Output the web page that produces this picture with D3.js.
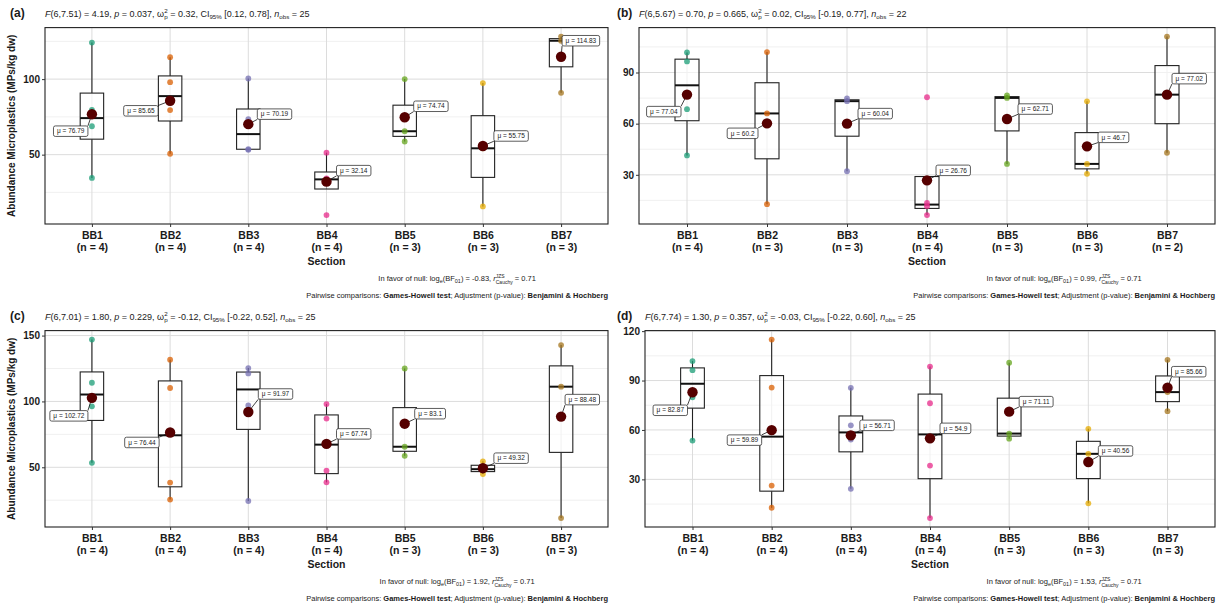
<!DOCTYPE html>
<html>
<head>
<meta charset="utf-8">
<script src="https://cdn.jsdelivr.net/npm/d3@7"></script>
<style>
  body { margin: 0; background: #fff; }
  svg text { font-family: "Liberation Sans", Arial, Helvetica, sans-serif; fill: #1a1a1a; }
</style>
</head>
<body>
<svg id="chart" width="1221" height="606"></svg>
<script>
// sections on the x axis
const sections = ["BB1", "BB2", "BB3", "BB4", "BB5", "BB6", "BB7"];
const palette = ["#1B9E77", "#D95F02", "#7570B3", "#E7298A", "#66A61E", "#E6AB02", "#A6761D"];

const obsA = [[34.6, 68.8, 79.6, 124.2], [50.6, 79.5, 98, 114.5], [53.2, 53.7, 73.5, 100.4], [10, 33, 34.26, 51.3],
              [58.7, 65.5, 100], [15.7, 54.2, 97.4], [90.9, 125.4, 128.2]];
const obsB = [[41.4, 68.5, 96.5, 101.8], [12.8, 66, 102], [32.1, 73.2, 74.8], [6.4, 11.6, 13.5, 75.5],
              [36.4, 75.1, 76.6], [30.6, 36.4, 73.1], [42.94, 111.1]];
const obsC = [[53.4, 96.3, 114.2, 147], [25.5, 38.4, 110.2, 131.7], [24.4, 96.9, 121.3, 125.3], [38.56, 47.4, 87, 98],
              [58.7, 65.6, 125], [44.9, 48.56, 54.5], [11.44, 111.2, 142.8]];
const obsD = [[53.58, 79.8, 96.3, 101.8], [12.76, 26.2, 85.7, 114.9], [24.24, 54.2, 62.8, 85.6], [6.5, 38.4, 76.2, 98.5],
              [54.73, 57.8, 100.8], [15.48, 45.5, 60.7], [71.4, 82.98, 102.6]];

// printed group means
const meansA = [76.79, 85.65, 70.19, 32.14, 74.74, 55.75, 114.83];
const meansB = [77.04, 60.2, 60.04, 26.76, 62.71, 46.7, 77.02];
const meansC = [102.72, 76.44, 91.97, 67.74, 83.1, 49.32, 88.48];
const meansD = [82.87, 59.89, 56.71, 54.9, 71.11, 40.56, 85.66];

// y ticks
const ticksA = [50, 100], minorA = [25, 75, 125];
const ticksB = [30, 60, 90], minorB = [15, 45, 75, 105];
const ticksC = [50, 100, 150], minorC = [25, 75, 125];
const ticksD = [30, 60, 90, 120], minorD = [15, 45, 75, 105];

// test statistics per panel
const panelTags = ["(a)", "(b)", "(c)", "(d)"];
const statDf = ["6,7.51", "6,5.67", "6,7.01", "6,7.74"];
const statF = ["4.19", "0.70", "1.80", "1.30"];
const statP = ["0.037", "0.665", "0.229", "0.357"];
const statOmega = ["0.32", "0.02", "-0.12", "-0.03"];
const statCI = ["[0.12, 0.78]", "[-0.19, 0.77]", "[-0.22, 0.52]", "[-0.22, 0.60]"];
const statN = [25, 22, 25, 25];
const statBF = ["-0.83", "0.99", "1.92", "1.53"];

// label nudges for the mean labels (px: [dx, dy])
const labA = [[-4, 17], [-12, 10], [9, -10], [10, -11], [9, -11], [11, -10], [1, -16]];
const labB = [[-6, 17], [-9, 10], [11, -10], [9, -10], [11, -10], [11, -9], [5, -16]];
const labC = [[-4, 18], [-11, 10], [10, -18], [10, -10], [10, -10], [11, -10], [4, -17]];
const labD = [[-5, 18], [-10, 10], [9, -10], [10, -10], [10, -10], [10, -11], [4, -16]];

const svg = d3.select("#chart");

const panels = [
  { obs: obsA, means: meansA, ticks: ticksA, minor: minorA, labs: labA, left: 45, right: 608, top: 27.6, bottom: 224, tagX: 10, yTitle: true },
  { obs: obsB, means: meansB, ticks: ticksB, minor: minorB, labs: labB, left: 639, right: 1215, top: 27.6, bottom: 224, tagX: 617, yTitle: false },
  { obs: obsC, means: meansC, ticks: ticksC, minor: minorC, labs: labC, left: 45, right: 608, top: 330.6, bottom: 527, tagX: 10, yTitle: true },
  { obs: obsD, means: meansD, ticks: ticksD, minor: minorD, labs: labD, left: 645, right: 1215, top: 330.6, bottom: 527, tagX: 617, yTitle: false }
];

function drawTitle(g, p, i) {
  const ty = p.top - 11;
  g.append("text").attr("x", p.tagX).attr("y", ty).style("font-weight", "bold").style("font-size", "12px").text(panelTags[i]);
  const t = g.append("text").attr("x", p.left).attr("y", ty).style("font-size", "9px");
  t.append("tspan").style("font-style", "italic").text("F");
  t.append("tspan").text(`(${statDf[i]}) = ${statF[i]}, `);
  t.append("tspan").style("font-style", "italic").text("p");
  t.append("tspan").text(` = ${statP[i]}, ω`);
  t.append("tspan").attr("dy", -3.5).style("font-size", "6.2px").text("2");
  t.append("tspan").attr("dx", -3.4).attr("dy", 6).style("font-size", "6.2px").text("p");
  t.append("tspan").attr("dy", -2.5).text(` = ${statOmega[i]}, CI`);
  t.append("tspan").attr("dy", 2.5).style("font-size", "6.2px").text("95%");
  t.append("tspan").attr("dy", -2.5).text(` ${statCI[i]}, `);
  t.append("tspan").style("font-style", "italic").text("n");
  t.append("tspan").attr("dy", 2.5).style("font-size", "6.2px").text("obs");
  t.append("tspan").attr("dy", -2.5).text(` = ${statN[i]}`);
}

function drawCaption(g, p, i) {
  const l2 = g.append("text").attr("x", p.right).attr("y", p.bottom + 73.5)
    .attr("text-anchor", "end").style("font-size", "7.5px");
  l2.append("tspan").text("Pairwise comparisons: ");
  l2.append("tspan").style("font-weight", "bold").text("Games-Howell test");
  l2.append("tspan").text("; Adjustment (p-value): ");
  l2.append("tspan").style("font-weight", "bold").text("Benjamini & Hochberg");
  const w2 = l2.node().getComputedTextLength();

  const l1 = g.append("text").attr("x", p.right - w2 / 2).attr("y", p.bottom + 57)
    .attr("text-anchor", "middle").style("font-size", "7.5px");
  l1.append("tspan").text("In favor of null: log");
  l1.append("tspan").attr("dy", 2).style("font-size", "5.5px").text("e");
  l1.append("tspan").attr("dy", -2).text("(BF");
  l1.append("tspan").attr("dy", 2).style("font-size", "5.5px").text("01");
  l1.append("tspan").attr("dy", -2).text(`) = ${statBF[i]}, `);
  l1.append("tspan").style("font-style", "italic").text("r");
  const sup = l1.append("tspan").attr("dy", -3).style("font-size", "5px").text("JZS");
  const supW = sup.node().getComputedTextLength();
  l1.append("tspan").attr("dx", -supW).attr("dy", 5.5).style("font-size", "5px").text("Cauchy");
  l1.append("tspan").attr("dy", -2.5).text(" = 0.71");
}

function drawPanel(p, i) {
  const g = svg.append("g");
  const x = d3.scalePoint().domain(sections).range([p.left, p.right]).padding(0.6);
  const [lo, hi] = d3.extent(p.obs.flat());
  const pad = (hi - lo) * 0.05;
  const y = d3.scaleLinear().domain([lo - pad, hi + pad]).range([p.bottom, p.top]);
  const boxW = x.step() * 0.3;

  // grid
  g.append("g").selectAll("line").data(p.minor).join("line")
    .attr("x1", p.left).attr("x2", p.right).attr("y1", d => y(d)).attr("y2", d => y(d))
    .attr("stroke", "#ececec").attr("stroke-width", 0.8);
  g.append("g").selectAll("line").data(p.ticks).join("line")
    .attr("x1", p.left).attr("x2", p.right).attr("y1", d => y(d)).attr("y2", d => y(d))
    .attr("stroke", "#dcdcdc").attr("stroke-width", 1);
  g.append("g").selectAll("line").data(sections).join("line")
    .attr("x1", d => x(d)).attr("x2", d => x(d)).attr("y1", p.top).attr("y2", p.bottom)
    .attr("stroke", "#dcdcdc").attr("stroke-width", 1);

  // boxplots (Tukey whiskers)
  const stats = p.obs.map((vals, k) => {
    const v = vals.slice().sort(d3.ascending);
    const q1 = d3.quantile(v, 0.25), med = d3.quantile(v, 0.5), q3 = d3.quantile(v, 0.75);
    const iqr = q3 - q1;
    return {
      s: sections[k], q1, med, q3,
      lo: d3.min(v.filter(d => d >= q1 - 1.5 * iqr)),
      hi: d3.max(v.filter(d => d <= q3 + 1.5 * iqr))
    };
  });
  const bx = g.append("g").selectAll("g").data(stats).join("g");
  bx.append("line").attr("x1", d => x(d.s)).attr("x2", d => x(d.s))
    .attr("y1", d => y(d.hi)).attr("y2", d => y(d.q3)).attr("stroke", "#222").attr("stroke-width", 1.1);
  bx.append("line").attr("x1", d => x(d.s)).attr("x2", d => x(d.s))
    .attr("y1", d => y(d.q1)).attr("y2", d => y(d.lo)).attr("stroke", "#222").attr("stroke-width", 1.1);
  bx.append("rect").attr("x", d => x(d.s) - boxW / 2).attr("width", boxW)
    .attr("y", d => y(d.q3)).attr("height", d => Math.max(0.5, y(d.q1) - y(d.q3)))
    .attr("fill", "#fff").attr("fill-opacity", 0.6).attr("stroke", "#222").attr("stroke-width", 1.1);
  bx.append("line").attr("x1", d => x(d.s) - boxW / 2).attr("x2", d => x(d.s) + boxW / 2)
    .attr("y1", d => y(d.med)).attr("y2", d => y(d.med)).attr("stroke", "#111").attr("stroke-width", 2);

  // raw points
  const pts = p.obs.flatMap((vals, k) => vals.map(v => ({ s: sections[k], k, v })));
  g.append("g").selectAll("circle").data(pts).join("circle")
    .attr("cx", d => x(d.s)).attr("cy", d => y(d.v)).attr("r", 2.9)
    .attr("fill", d => palette[d.k]).attr("fill-opacity", 0.75);

  // mean points with repelled-style labels
  const lg = g.append("g");
  p.means.forEach((m, k) => {
    const mx = x(sections[k]), my = y(m);
    const [dx, dy] = p.labs[k];
    const lab = lg.append("g");
    const txt = lab.append("text").style("font-size", "6.5px").text(`μ = ${m}`);
    const tw = txt.node().getComputedTextLength();
    const w = tw + 7, h = 10.5;
    const lx = dx >= 0 ? mx + dx : mx + dx - w;
    const ly = my + dy - h / 2;
    const cx = Math.max(lx, Math.min(mx, lx + w));
    const cy = Math.max(ly, Math.min(my, ly + h));
    lg.insert("line", ":first-child").attr("x1", mx).attr("y1", my).attr("x2", cx).attr("y2", cy)
      .attr("stroke", "#111").attr("stroke-width", 0.8);
    lab.insert("rect", "text").attr("x", lx).attr("y", ly).attr("width", w).attr("height", h)
      .attr("rx", 1.8).attr("fill", "#fff").attr("stroke", "#333").attr("stroke-width", 0.8);
    txt.attr("x", lx + w / 2).attr("y", ly + h / 2 + 2.2).attr("text-anchor", "middle");
    lg.insert("circle", "g").attr("cx", mx).attr("cy", my).attr("r", 5.2).attr("fill", "#560000");
  });

  // border
  g.append("rect").attr("x", p.left).attr("y", p.top).attr("width", p.right - p.left).attr("height", p.bottom - p.top)
    .attr("fill", "none").attr("stroke", "#222").attr("stroke-width", 1.1);

  // axes
  const ya = g.append("g").attr("transform", `translate(${p.left},0)`)
    .call(d3.axisLeft(y).tickValues(p.ticks).tickSize(3).tickPadding(2));
  ya.select(".domain").remove();
  ya.selectAll(".tick line").attr("stroke", "#333");
  ya.selectAll(".tick text").style("font-size", "10px").style("font-weight", "bold").attr("fill", "#1a1a1a");

  const xa = g.append("g").attr("transform", `translate(0,${p.bottom})`)
    .call(d3.axisBottom(x).tickSize(3).tickPadding(2));
  xa.select(".domain").remove();
  xa.selectAll(".tick line").attr("stroke", "#333");
  xa.selectAll(".tick text").each(function (d, k) {
    const t = d3.select(this).text(null).attr("dy", null).attr("y", 0)
      .style("font-size", "10.5px").style("font-weight", "bold").attr("fill", "#1a1a1a");
    t.append("tspan").attr("x", 0).attr("y", 14.5).text(d);
    t.append("tspan").attr("x", 0).attr("y", 26.5).text(`(n = ${p.obs[k].length})`);
  });

  g.append("text").attr("x", (p.left + p.right) / 2).attr("y", p.bottom + 40.5)
    .attr("text-anchor", "middle").style("font-size", "10.5px").style("font-weight", "bold").text("Section");

  if (p.yTitle) {
    g.append("text").attr("transform", `translate(15,${(p.top + p.bottom) / 2}) rotate(-90)`)
      .attr("text-anchor", "middle").style("font-size", "10px").style("font-weight", "bold")
      .text("Abundance Microplastics (MPs/kg dw)");
  }

  drawTitle(g, p, i);
  drawCaption(g, p, i);
}

panels.forEach(drawPanel);
</script>
</body>
</html>
